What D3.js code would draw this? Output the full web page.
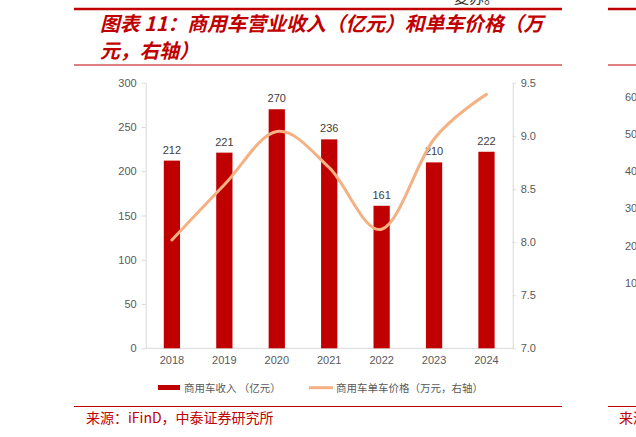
<html>
<head>
<meta charset="utf-8">
<style>
  body { margin: 0; background: #fff; }
  svg { display: block; }
  .axis text { fill: #595959; font-size: 11px; font-family: "Liberation Sans", "Noto Sans CJK SC", sans-serif; }
  .axis line, .axis path { stroke: #d9d9d9; }
  .cjk { font-family: "Noto Sans CJK SC", sans-serif; }
</style>
</head>
<body>
<svg class="chart" width="636" height="437"></svg>
<script src="https://d3js.org/d3.v7.min.js"></script>
<script>
// data
var years = ["2018", "2019", "2020", "2021", "2022", "2023", "2024"];
var revenue = [212, 221, 270, 236, 161, 210, 222];          // 亿元
var unitPrice = [8.02, 8.54, 9.04, 8.70, 8.12, 8.97, 9.39];  // 万元, right axis
var leftTicks = [0, 50, 100, 150, 200, 250, 300];
var rightTicks = [7.0, 7.5, 8.0, 8.5, 9.0, 9.5];
var sideTicks = [10, 20, 30, 40, 50, 60];                    // cut-off panel on the right

var red = "#c00000";
var orange = "#f4b183";

var svg = d3.select(".chart");

var plotLeft = 145.7, plotRight = 512.7, plotTop = 82.7, plotBottom = 348.3;

var x = d3.scaleBand()
    .domain(years)
    .range([plotLeft, plotRight])
    .paddingInner(0.69)
    .paddingOuter(0.345);

var yLeft = d3.scaleLinear().domain([0, 300]).range([plotBottom, plotTop]);
var yRight = d3.scaleLinear().domain([7, 9.5]).range([plotBottom, plotTop]);

// frame lines of the report page
function hline(x1, x2, y, w) {
    svg.append("line")
        .attr("x1", x1).attr("x2", x2).attr("y1", y).attr("y2", y)
        .style("stroke", red).style("stroke-width", w);
}
hline(74, 562, 9, 2.5);
hline(74, 562, 65, 1);
hline(74, 562, 406.5, 1);
hline(608, 636, 9, 2.5);
hline(608, 636, 65, 1);
hline(608, 636, 406.5, 1);

// bit of text cut off at the top
svg.append("text").attr("class", "cjk")
    .attr("x", 454).attr("y", 3)
    .style("font-size", "15px").style("fill", "#333")
    .text("复苏。");

// title
svg.append("text").attr("class", "cjk")
    .attr("x", 100).attr("y", 31)
    .style("fill", red).style("font-size", "19.8px")
    .style("font-weight", "bold").style("font-style", "italic")
    .text("图表 11：商用车营业收入（亿元）和单车价格（万");
svg.append("text").attr("class", "cjk")
    .attr("x", 100).attr("y", 58)
    .style("fill", red).style("font-size", "19.8px")
    .style("font-weight", "bold").style("font-style", "italic")
    .text("元，右轴）");

// axes
svg.append("g").attr("class", "axis")
    .attr("transform", "translate(" + plotLeft + ",0)")
    .call(d3.axisLeft(yLeft).tickValues(leftTicks).tickSize(4).tickPadding(5).tickSizeOuter(0));

svg.append("g").attr("class", "axis")
    .attr("transform", "translate(" + plotRight + ",0)")
    .call(d3.axisRight(yRight).tickValues(rightTicks).tickFormat(d3.format(".1f"))
        .tickSize(3).tickPadding(5).tickSizeOuter(0));

var bottomAxis = svg.append("g").attr("class", "axis")
    .attr("transform", "translate(0," + plotBottom + ")")
    .call(d3.axisBottom(x).tickSize(0).tickPadding(8));
bottomAxis.select("path").attr("d", "M" + plotLeft + ",0H" + plotRight);

// bars
svg.selectAll(".bar")
    .data(revenue)
    .enter()
    .append("rect")
    .attr("class", "bar")
    .attr("x", function(d, i) { return x(years[i]); })
    .attr("width", x.bandwidth())
    .attr("y", function(d) { return yLeft(d); })
    .attr("height", function(d) { return plotBottom - yLeft(d); })
    .style("fill", red);

svg.selectAll(".barLabel")
    .data(revenue)
    .enter()
    .append("text")
    .attr("class", "barLabel")
    .attr("x", function(d, i) { return x(years[i]) + x.bandwidth() / 2; })
    .attr("y", function(d) { return yLeft(d) - 7; })
    .attr("text-anchor", "middle")
    .style("font-size", "11px")
    .style("font-family", "Liberation Sans, sans-serif")
    .style("fill", "#404040")
    .text(function(d) { return d; });

// smooth price line
var line = d3.line()
    .x(function(d, i) { return x(years[i]) + x.bandwidth() / 2; })
    .y(function(d) { return yRight(d); })
    .curve(d3.curveCardinal.tension(0));

svg.append("path")
    .datum(unitPrice)
    .attr("d", line)
    .style("fill", "none")
    .style("stroke", orange)
    .style("stroke-width", 3)
    .style("stroke-linecap", "round");

// legend
var legend = svg.append("g").attr("class", "cjk")
    .style("font-size", "10.5px").style("fill", "#595959");
legend.append("rect").attr("x", 158).attr("y", 385).attr("width", 22).attr("height", 5).style("fill", red);
legend.append("text").attr("x", 184).attr("y", 391.5).text("商用车收入 （亿元）");
legend.append("line").attr("x1", 309).attr("x2", 333).attr("y1", 387.7).attr("y2", 387.7)
    .style("stroke", orange).style("stroke-width", 3);
legend.append("text").attr("x", 336).attr("y", 391.5).text("商用车单车价格（万元，右轴）");

// source
svg.append("text").attr("class", "cjk")
    .attr("x", 86).attr("y", 423)
    .style("font-size", "14px").style("fill", red)
    .text("来源：iFinD，中泰证券研究所");

// neighbouring panel, cut off by the page edge
var ySide = d3.scaleLinear().domain([10, 60]).range([282.7, 96.7]);
svg.selectAll(".sideTick")
    .data(sideTicks)
    .enter()
    .append("text")
    .attr("class", "sideTick")
    .attr("x", 625)
    .attr("y", function(d) { return ySide(d) + 4; })
    .style("font-size", "11px")
    .style("font-family", "Liberation Sans, sans-serif")
    .style("fill", "#595959")
    .text(function(d) { return d; });
svg.append("text").attr("class", "cjk")
    .attr("x", 619).attr("y", 423)
    .style("font-size", "14px").style("fill", red)
    .text("来源");
</script>
</body>
</html>
